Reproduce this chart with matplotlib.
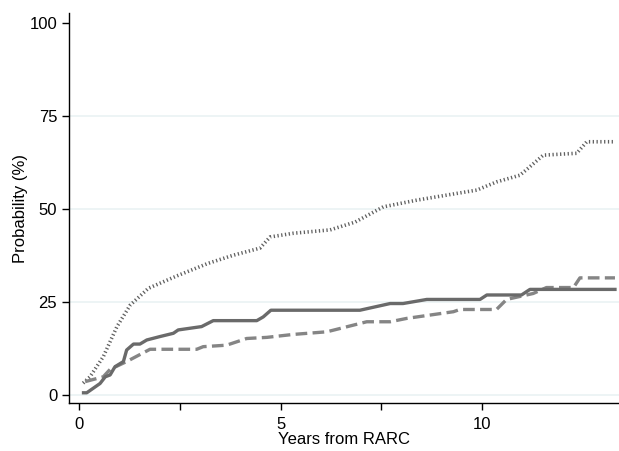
import matplotlib.pyplot as plt

plt.rcParams['font.family'] = ['Liberation Sans', 'DejaVu Sans']

# solid curve
solid_x = [0.11, 0.19, 0.52, 0.65, 0.77, 0.89, 1.1, 1.18, 1.35, 1.51, 1.68, 2.0, 2.34, 2.46,
           3.04, 3.33, 4.41, 4.57, 4.76, 6.97, 7.72, 8.04, 8.63, 9.95, 10.12, 10.98, 11.19, 13.3]
solid_y = [0.6, 0.6, 3.1, 4.9, 5.4, 7.6, 9.0, 12.1, 13.7, 13.7, 14.8, 15.7, 16.6, 17.5,
           18.4, 20.0, 20.0, 21.0, 22.8, 22.8, 24.6, 24.6, 25.7, 25.7, 26.9, 26.9, 28.4, 28.4]

# dashed curve
dash_x = [0.15, 0.6, 0.77, 1.18, 1.76, 2.92, 3.08, 3.66, 4.16, 4.66, 5.32, 6.15, 7.14, 7.72,
          8.13, 9.29, 9.45, 10.36, 10.61, 11.27, 11.6, 12.27, 12.43, 13.3]
dash_y = [3.6, 4.9, 6.9, 9.0, 12.3, 12.3, 13.0, 13.4, 15.2, 15.5, 16.3, 17.0, 19.7, 19.7,
          20.6, 22.4, 23.0, 23.0, 25.7, 27.3, 28.9, 28.9, 31.5, 31.5]

# dotted curve
dot_x = [0.1, 0.27, 0.6, 0.94, 1.27, 1.72, 2.42, 3.2, 3.83, 4.49, 4.74, 5.32, 6.23, 6.85,
         7.55, 8.38, 9.37, 9.87, 10.36, 10.94, 11.19, 11.52, 12.35, 12.6, 13.3]
dot_y = [3.2, 4.9, 10.3, 18.4, 24.2, 28.7, 32.0, 35.4, 37.6, 39.5, 42.5, 43.5, 44.4, 46.5,
         50.6, 52.4, 54.2, 55.1, 57.3, 59.1, 61.4, 64.5, 65.0, 68.1, 68.1]

fig = plt.figure(figsize=(6.19, 4.51), dpi=100)
ax = fig.add_axes([0.1115, 0.1064, 0.8885, 0.8646])

for yv in [0, 25, 50, 75]:
    ax.axhline(yv, color='#eaf2f3', lw=1.2, zorder=0)

ax.plot(dot_x, dot_y, color='#606060', lw=2.6, linestyle=(0, (0.35, 0.7)))
ax.plot(dash_x, dash_y, color='#858585', lw=2.4, linestyle=(0, (3.5, 1.6)))
ax.plot(solid_x, solid_y, color='#6a6a6a', lw=2.4)

ax.set_xlim(-0.25, 13.4)
ax.set_ylim(-2.15, 102.7)
ax.set_xticks([0, 2.5, 5, 7.5, 10])
ax.set_xticklabels(['0', '', '5', '', '10'])
ax.set_yticks([0, 25, 50, 75, 100])
ax.tick_params(direction='out', length=5, width=1, labelsize=12, colors='black')
ax.tick_params(axis='x', pad=5)
for s in ['top', 'right']:
    ax.spines[s].set_visible(False)
for s in ['left', 'bottom']:
    ax.spines[s].set_linewidth(1)

ax.set_xlabel('Years from RARC', fontsize=12, labelpad=0)
ax.set_ylabel('Probability (%)', fontsize=12, labelpad=1)

fig.savefig('out.png', dpi=100)
